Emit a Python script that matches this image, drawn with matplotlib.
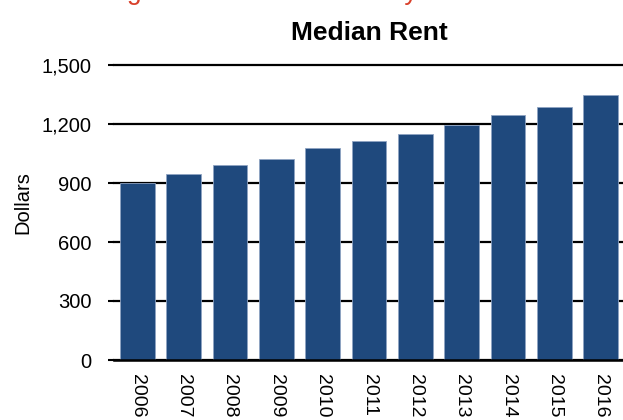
import matplotlib
matplotlib.use("Agg")
import matplotlib.pyplot as plt
import numpy as np

years = ["2006", "2007", "2008", "2009", "2010", "2011", "2012", "2013", "2014", "2015", "2016"]
rent = [901, 946, 991, 1020, 1080, 1114, 1151, 1193, 1246, 1284, 1347]
yticks = [0, 300, 600, 900, 1200, 1500]
ytick_labels = ["0", "300", "600", "900", "1,200", "1,500"]

plt.rcParams['font.family'] = ['Liberation Sans', 'DejaVu Sans']

fig = plt.figure(figsize=(6.23, 4.2), dpi=100)
ax = fig.add_axes([114/623, 60/420, 510/623, 295/420])

x = np.arange(len(years))
ax.bar(x, rent, width=0.75, color="#1F497D", edgecolor="#8FA3C2", linewidth=0.6, zorder=3)

ax.set_xlim(-0.5, len(years) - 0.5)
ax.set_ylim(0, 1500)
ax.set_yticks(yticks)
ax.set_yticklabels(ytick_labels, fontsize=14.5)
ax.set_xticks(x)
ax.set_xticklabels(years, rotation=270, fontsize=14, va="top", ha="center")
ax.tick_params(axis="x", length=0, pad=10)
ax.tick_params(axis="y", length=4, width=1.5, color="black", pad=12)

ax.yaxis.grid(True, color="black", linewidth=1.6, zorder=0)
for gl in ax.get_ygridlines():
    gl.set_clip_on(False)
ax.set_axisbelow(True)
for s in ["top", "right", "left"]:
    ax.spines[s].set_visible(False)
ax.spines["bottom"].set_linewidth(1.8)
ax.spines["bottom"].set_zorder(4)

ax.set_ylabel("Dollars", fontsize=14.5, ha="center", va="center")
ax.yaxis.set_label_coords((23 - 114) / 510, (360 - 203) / 295)

fig.text(0.5 * (114 + 624) / 623, 1 - 33 / 420, "Median Rent", ha="center", va="center",
         fontsize=19, fontweight="bold")
fig.text(44.5 / 623, 1.0025, "Housing Costs in the Metro City", ha="left", va="baseline",
         fontsize=19.2, color="#D9412B")

fig.savefig("out.png", dpi=100)
